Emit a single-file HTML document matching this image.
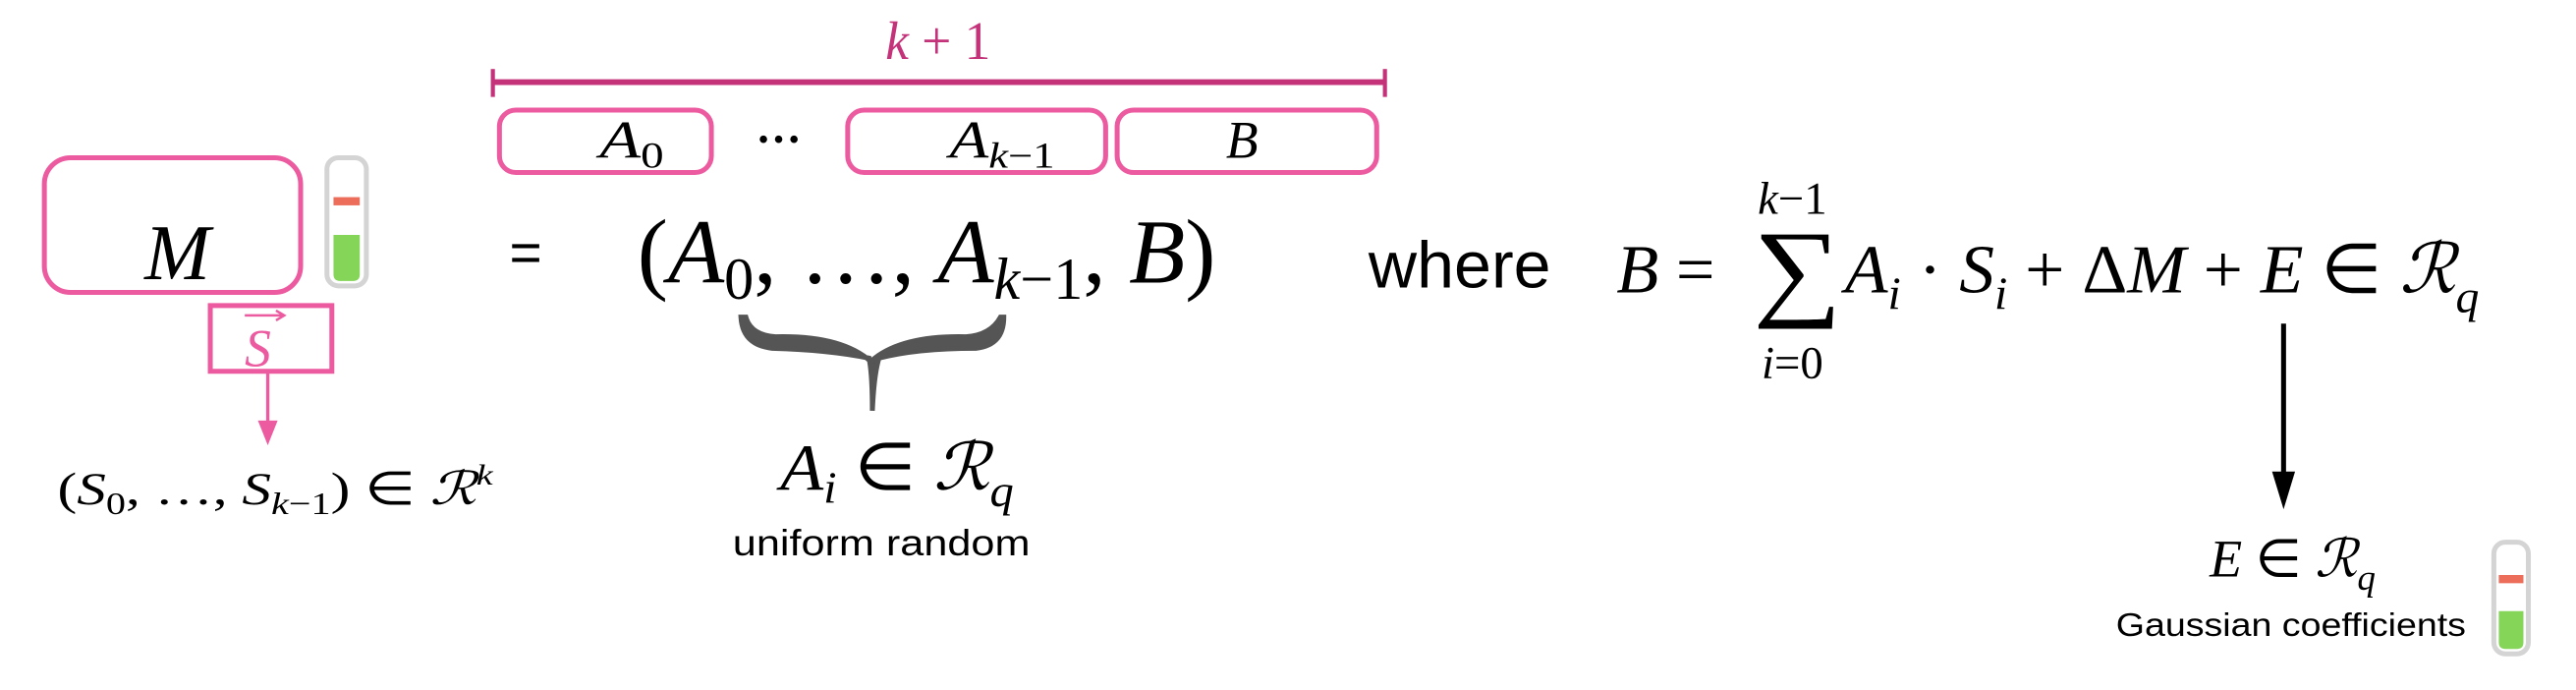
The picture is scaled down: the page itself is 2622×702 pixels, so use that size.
<!DOCTYPE html>
<html><head><meta charset="utf-8"><style>
html,body{margin:0;padding:0;background:#fff;width:2622px;height:702px;overflow:hidden}
svg{display:block}
.m{font-family:"Liberation Serif",serif;font-style:italic;fill:#000}
.r{font-family:"Liberation Serif",serif;font-style:normal;fill:#000}
.s{font-family:"Liberation Sans",sans-serif;fill:#000}
</style></head><body>
<svg width="2622" height="702" viewBox="0 0 1568 420" preserveAspectRatio="none" xmlns="http://www.w3.org/2000/svg">
<g>
<text x="571" y="36" text-anchor="middle" class="m" font-size="33" textLength="64" lengthAdjust="spacingAndGlyphs" style="fill:#c4327a">k <tspan font-style="normal">+ 1</tspan></text>
<line x1="300" y1="50" x2="843" y2="50" stroke="#c4327a" stroke-width="3.5"/>
<line x1="300" y1="42" x2="300" y2="59" stroke="#c4327a" stroke-width="2.5"/>
<line x1="843" y1="42" x2="843" y2="59" stroke="#c4327a" stroke-width="2.5"/>
</g>
<g fill="none" stroke="#ec5a9f" stroke-width="3">
<rect x="304" y="67" width="129" height="38" rx="10"/>
<rect x="516" y="67" width="157" height="38" rx="10"/>
<rect x="680" y="67" width="158" height="38" rx="10"/>
</g>
<text x="365" y="96" class="m" font-size="32" textLength="39" lengthAdjust="spacingAndGlyphs">A<tspan font-style="normal" font-size="22" dy="6">0</tspan></text>
<text x="474" y="94" class="r" font-size="28" text-anchor="middle" font-weight="bold">···</text>
<text x="578" y="96" class="m" font-size="32" textLength="64" lengthAdjust="spacingAndGlyphs">A<tspan font-size="22" dy="6">k</tspan><tspan font-style="normal" font-size="22">−1</tspan></text>
<text x="756" y="96" class="m" font-size="32" text-anchor="middle">B</text>

<g>
<rect x="27" y="96" width="156" height="82" rx="16" fill="none" stroke="#ec5a9f" stroke-width="3"/>
<rect x="128" y="186" width="74" height="40" fill="#fff" stroke="#ec5a9f" stroke-width="3"/>
<text x="108" y="170" class="m" font-size="48" text-anchor="middle">M</text>
<text x="157" y="223" class="m" font-size="32" text-anchor="middle" style="fill:#ec5a9f">S</text>
<line x1="149" y1="192" x2="172" y2="192" stroke="#ec5a9f" stroke-width="1.5"/>
<path d="M168 189 L173 192 L168 195" fill="none" stroke="#ec5a9f" stroke-width="1.5"/>
<line x1="163" y1="226" x2="163" y2="258" stroke="#ec5a9f" stroke-width="2"/>
<path d="M157 256 L169 256 L163 271 Z" fill="#ec5a9f"/>
</g>
<g>
<rect x="199" y="96" width="24" height="78" rx="7" fill="#fff" stroke="#d4d4d4" stroke-width="3"/>
<rect x="203" y="120" width="16" height="5" fill="#ec6e5a"/>
<path d="M203 143 H219 V167 Q219 171 215 171 H207 Q203 171 203 167 Z" fill="#84d558"/>
</g>
<text x="35" y="307" class="r" font-size="28" textLength="265" lengthAdjust="spacingAndGlyphs">(<tspan font-style="italic">S</tspan><tspan font-size="19" dy="6">0</tspan><tspan dy="-6">, …, </tspan><tspan font-style="italic">S</tspan><tspan font-size="19" dy="6" font-style="italic">k</tspan><tspan font-size="19">−1</tspan><tspan dy="-6">) ∈ </tspan><tspan font-style="italic">ℛ</tspan><tspan font-size="18" dy="-12" font-style="italic">k</tspan></text>

<text x="320" y="165" class="s" font-size="34" text-anchor="middle">=</text>
<text x="388" y="172" class="r" font-size="56" textLength="352" lengthAdjust="spacingAndGlyphs">(<tspan font-style="italic">A</tspan><tspan font-size="36" dy="10">0</tspan><tspan dy="-10">, …, </tspan><tspan font-style="italic">A</tspan><tspan font-size="36" dy="10" font-style="italic">k</tspan><tspan font-size="36">−1</tspan><tspan dy="-10">, </tspan><tspan font-style="italic">B</tspan>)</text>
<path d="M451 193 Q452 210 470 212 Q505 213 529 218 Q531 228 531 250 Q532 228 535 218 Q558 212 594 212 Q611 210 611 193 L609 193 Q603 204 588 205 Q548 204 530 220 Q512 204 472 205 Q457 204 454 193 Z" fill="#555" stroke="#555" stroke-width="3"/>
<text x="475" y="298" class="m" font-size="40" textLength="142" lengthAdjust="spacingAndGlyphs">A<tspan font-size="27" dy="8">i</tspan><tspan dy="-8" font-style="normal"> ∈ </tspan>ℛ<tspan font-size="27" dy="10">q</tspan></text>
<text x="446" y="338" class="s" font-size="22" textLength="181" lengthAdjust="spacingAndGlyphs">uniform random</text>

<text x="833" y="175" class="s" font-size="40" textLength="111" lengthAdjust="spacingAndGlyphs">where</text>
<text x="984" y="178" class="m" font-size="42">B<tspan font-style="normal"> = </tspan></text>
<text transform="translate(1067,186) scale(1.15,1)" class="r" font-size="66">∑</text>
<text x="1091" y="130" class="m" font-size="28" text-anchor="middle">k<tspan font-style="normal">−1</tspan></text>
<text x="1091" y="230" class="m" font-size="28" text-anchor="middle">i<tspan font-style="normal">=0</tspan></text>
<text x="1123" y="178" class="m" font-size="42" textLength="386" lengthAdjust="spacingAndGlyphs">A<tspan font-size="28" dy="10">i</tspan><tspan font-style="normal" dy="-10"> · </tspan>S<tspan font-size="28" dy="10">i</tspan><tspan font-style="normal" dy="-10"> + Δ</tspan>M<tspan font-style="normal"> + </tspan>E<tspan font-style="normal"> ∈ </tspan>ℛ<tspan font-size="28" dy="12">q</tspan></text>
<line x1="1390" y1="197" x2="1390" y2="290" stroke="#000" stroke-width="3"/>
<path d="M1383 287 L1397 287 L1390 310 Z" fill="#000"/>
<text x="1345" y="351" class="m" font-size="32" textLength="101" lengthAdjust="spacingAndGlyphs">E<tspan font-style="normal"> ∈ </tspan>ℛ<tspan font-size="22" dy="8">q</tspan></text>
<text x="1288" y="387" class="s" font-size="20" textLength="213" lengthAdjust="spacingAndGlyphs">Gaussian coefficients</text>
<g>
<rect x="1518" y="330" width="21" height="68" rx="7" fill="#fff" stroke="#d4d4d4" stroke-width="3"/>
<rect x="1521" y="350" width="15" height="5" fill="#ec6e5a"/>
<path d="M1521 372 H1536 V391 Q1536 395 1532 395 H1525 Q1521 395 1521 391 Z" fill="#84d558"/>
</g>
</svg>
</body></html>
